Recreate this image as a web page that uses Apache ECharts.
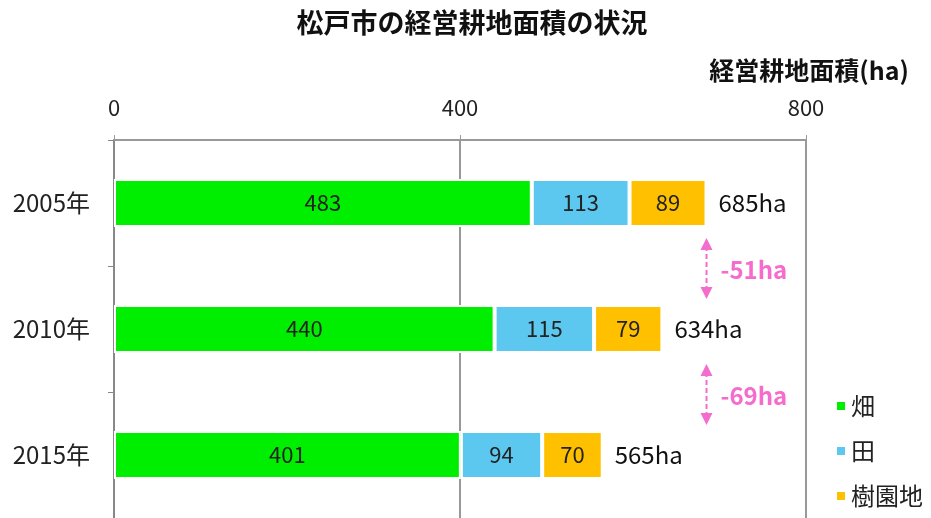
<!DOCTYPE html>
<html><head><meta charset="utf-8">
<script src="https://cdn.jsdelivr.net/npm/echarts@6/dist/echarts.min.js"></script>
<style>html,body{margin:0;padding:0;background:#fff}#c{width:931px;height:518px}</style>
</head><body><div id="c"></div>
<script>
const categories = ['2005年', '2010年', '2015年'];
const hatake = [483, 440, 401];
const ta = [113, 115, 94];
const jueneichi = [89, 79, 70];
const totals = [685, 634, 565];
const diffs = ['-51ha', '-69ha'];
const xTicks = [0, 400, 800];

const FONT = '"Noto Sans CJK JP", "Noto Sans", sans-serif';
const chart = echarts.init(document.getElementById('c'));

function barSeries(name, data, color) {
  return {
    name, type: 'bar', stack: 'total', data, barCategoryGap: '62%',
    itemStyle: { color, borderColor: '#fff', borderWidth: 2 },
    label: { show: true, position: 'inside', color: '#222', fontSize: 22, fontFamily: FONT },
    emphasis: { disabled: true }
  };
}

chart.setOption({
  animation: false,
  title: [{
    text: '松戸市の経営耕地面積の状況', left: 467, textAlign: 'center', top: 4,
    textStyle: { fontSize: 27, fontWeight: 'bold', color: '#111', fontFamily: FONT }
  }, {
    text: '経営耕地面積(ha)', right: 17, top: 53,
    textStyle: { fontSize: 25, fontWeight: 'bold', color: '#111', fontFamily: FONT }
  }],
  legend: {
    orient: 'vertical', left: 830, top: 389, itemWidth: 10, itemHeight: 10, itemGap: 21,
    icon: 'rect', data: ['畑', '田', '樹園地'],
    textStyle: { fontSize: 24, color: '#222', fontFamily: FONT }
  },
  grid: { left: 114, right: 125, top: 140, height: 381 },
  xAxis: {
    type: 'value', position: 'top', min: xTicks[0], max: xTicks[2], interval: 400,
    axisLine: { show: true, lineStyle: { color: '#999', width: 2 } },
    axisTick: { show: true, length: 5, lineStyle: { color: '#999' } },
    axisLabel: { fontSize: 22, color: '#222', margin: 21, fontFamily: FONT },
    splitLine: { show: true, lineStyle: { color: '#999', width: 2 } }
  },
  yAxis: {
    type: 'category', inverse: true, data: categories,
    axisLine: { show: true, lineStyle: { color: '#888', width: 2 } },
    axisTick: { show: true, length: 6, lineStyle: { color: '#888' } },
    axisLabel: { fontSize: 24, color: '#222', margin: 24, fontFamily: FONT }
  },
  series: [
    barSeries('畑', hatake, '#00ee00'),
    barSeries('田', ta, '#5cc8f0'),
    barSeries('樹園地', jueneichi, '#ffc000'),
    {
      type: 'scatter', data: totals.map((t, i) => [t, i]), symbolSize: 0, silent: true,
      itemStyle: { opacity: 1 },
      label: { show: true, position: 'right', distance: 12, formatter: p => p.value[0] + 'ha', fontSize: 24, color: '#111', opacity: 1, fontFamily: FONT }
    },
    {
      type: 'custom', silent: true, data: diffs.map((d, i) => [totals[0], i]),
      renderItem: function (params, api) {
        const i = api.value(1);
        const p0 = api.coord([api.value(0), i]);
        const p1 = api.coord([api.value(0), i + 1]);
        const x = p0[0];
        const yTop = p0[1] + 35, yBot = p1[1] - 30;
        const color = '#f46ccd';
        return {
          type: 'group', children: [
            { type: 'line', shape: { x1: x, y1: yTop + 8, x2: x, y2: yBot - 8 }, style: { stroke: color, lineWidth: 2, lineDash: [5, 3] } },
            { type: 'polygon', shape: { points: [[x, yTop], [x - 6, yTop + 12], [x + 6, yTop + 12]] }, style: { fill: color } },
            { type: 'polygon', shape: { points: [[x, yBot], [x - 6, yBot - 12], [x + 6, yBot - 12]] }, style: { fill: color } },
            { type: 'text', x: x + 14, y: (yTop + yBot) / 2 + 1, style: { text: diffs[params.dataIndex], fill: color, fontSize: 24, fontWeight: 'bold', fontFamily: FONT, verticalAlign: 'middle' } }
          ]
        };
      }
    }
  ]
});
</script></body></html>
